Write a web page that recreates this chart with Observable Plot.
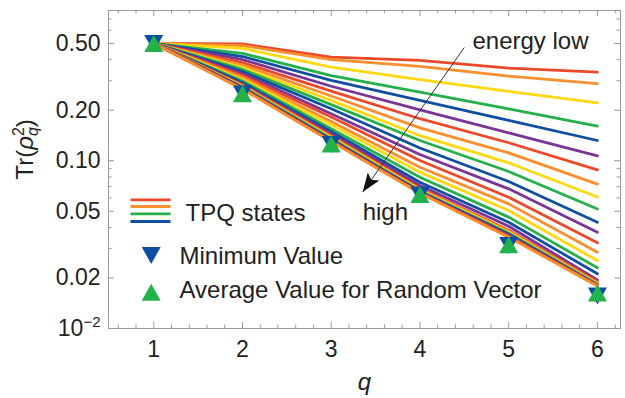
<!DOCTYPE html>
<html><head><meta charset="utf-8">
<script src="https://cdn.jsdelivr.net/npm/d3@7"></script>
<script src="https://cdn.jsdelivr.net/npm/@observablehq/plot@0.6"></script>
<style>body{margin:0;background:#fff}</style>
</head><body><div id="chart"></div>
<script>
// ---- data ----
const q = [1, 2, 3, 4, 5, 6];
const tpq = [
  [0.5, 0.497, 0.414, 0.396, 0.356, 0.337],
  [0.5, 0.486, 0.401, 0.365, 0.319, 0.288],
  [0.5, 0.467, 0.361, 0.304, 0.259, 0.221],
  [0.5, 0.436, 0.322, 0.256, 0.204, 0.161],
  [0.5, 0.418, 0.301, 0.229, 0.174, 0.132],
  [0.5, 0.401, 0.278, 0.201, 0.1466, 0.107],
  [0.5, 0.385, 0.260, 0.178, 0.128, 0.0883],
  [0.5, 0.372, 0.243, 0.157, 0.1114, 0.0726],
  [0.5, 0.359, 0.229, 0.141, 0.0972, 0.0608],
  [0.5, 0.350, 0.216, 0.132, 0.0863, 0.0516],
  [0.5, 0.340, 0.204, 0.119, 0.0752, 0.0430],
  [0.5, 0.331, 0.1906, 0.109, 0.0680, 0.0375],
  [0.5, 0.322, 0.182, 0.1003, 0.0606, 0.0324],
  [0.5, 0.314, 0.1713, 0.0914, 0.0553, 0.0285],
  [0.5, 0.305, 0.1637, 0.0855, 0.0505, 0.0254],
  [0.5, 0.299, 0.155, 0.0798, 0.0461, 0.0230],
  [0.5, 0.292, 0.1494, 0.0745, 0.0430, 0.0212],
  [0.5, 0.286, 0.1447, 0.0712, 0.0407, 0.0195],
  [0.5, 0.283, 0.141, 0.0685, 0.0385, 0.0190],
  [0.5, 0.280, 0.139, 0.0675, 0.0380, 0.0187],
  [0.5, 0.277, 0.137, 0.0670, 0.0375, 0.0185],
  [0.5, 0.275, 0.1355, 0.0660, 0.0370, 0.0183],
  [0.5, 0.273, 0.134, 0.0655, 0.0365, 0.0182],
  [0.5, 0.271, 0.1325, 0.0650, 0.0360, 0.0181],
  [0.5, 0.269, 0.131, 0.0645, 0.0355, 0.0180],
  [0.5, 0.267, 0.130, 0.0640, 0.0350, 0.0179]
];
const minValue = [0.5, 0.25, 0.125, 0.0625, 0.03125, 0.0156];
const avgRandom = [0.5, 0.251, 0.126, 0.0628, 0.0316, 0.0163];
const xMajor = [1, 2, 3, 4, 5, 6];
const xTickLabels = ["1", "2", "3", "4", "5", "6"];
const xMinor = [0.6, 0.8, 1.2, 1.4, 1.6, 1.8, 2.2, 2.4, 2.6, 2.8, 3.2, 3.4, 3.6, 3.8, 4.2, 4.4, 4.6, 4.8, 5.2, 5.4, 5.6, 5.8, 6.2];
const yMajor = [0.01, 0.02, 0.05, 0.1, 0.2, 0.5];
const yMinor = [0.03, 0.04, 0.06, 0.07, 0.08, 0.09, 0.3, 0.4, 0.6, 0.7];
const yTickLabels = ["10^-2", "0.02", "0.05", "0.10", "0.20", "0.50"];
const legendLabels = ["TPQ states", "Minimum Value", "Average Value for Random Vector"];
const arrowAnno = [{x1: 4.5, y1: 0.473, x2: 3.354, y2: 0.065}];
const textAnno = [{x: 4.592, y: 0.514, text: "energy low"}, {x: 3.354, y: 0.0494, text: "high"}];

// ---- styles ----
const palette = ["#EB4A2A", "#F88F2F", "#FFD812", "#26B04B", "#104FA0", "#7B3597"];
const blueM = "#0D4EA3", greenM = "#22B24C", gray = "#999", ink = "#222";
const W = 625, H = 398, mL = 108, mR = 5, mT = 10, mB = 70;
const iw = W - mL - mR, ih = H - mT - mB;
const bigFont = 24;

const rows = tpq.flatMap((vals, i) => vals.map((v, j) => ({q: q[j], v, line: i, c: palette[i % 6]})));
const minRows = q.map((d, i) => ({q: d, v: minValue[i]}));
const avgRows = q.map((d, i) => ({q: d, v: avgRandom[i]}));

const triUp = {draw(c) { c.moveTo(0, -8.5); c.lineTo(9.5, 8.5); c.lineTo(-9.5, 8.5); c.closePath(); }};
const triDown = {draw(c) { c.moveTo(0, 8.5); c.lineTo(9.5, -8.5); c.lineTo(-9.5, -8.5); c.closePath(); }};
const hline = {draw(c) { c.moveTo(-20, 0); c.lineTo(20, 0); }};
const head = {draw(c) { c.moveTo(0, 0); c.lineTo(7, 19); c.lineTo(0, 15); c.lineTo(-7, 19); c.closePath(); }};

const swatchColors = [palette[0], palette[1], palette[3], palette[4]];
const swatchDy = [-128.7, -122, -114.7, -107];

const legendText = (label, dx, dy) => Plot.text([label], {frameAnchor: "bottom-left", dx, dy, text: d => d,
  textAnchor: "start", lineAnchor: "middle", fill: ink, fontSize: bigFont});

const chart = Plot.plot({
  width: W, height: H,
  marginLeft: mL, marginRight: mR, marginTop: mT, marginBottom: mB,
  style: {fontSize: "23px", fontFamily: "'Liberation Sans', Arial, sans-serif", color: ink, background: "#fff"},
  x: {domain: [0.49, 6.26]},
  y: {type: "log", domain: [0.01, 0.786]},
  color: {type: "identity"},
  marks: [
    Plot.line(rows, {x: "q", y: "v", z: "line", stroke: "c", strokeWidth: 2.8}),
    Plot.dot(minRows, {x: "q", y: "v", symbol: triDown, fill: blueM, stroke: null}),
    Plot.dot(avgRows, {x: "q", y: "v", symbol: triUp, fill: greenM, stroke: null}),
    Plot.link(arrowAnno, {x1: "x1", y1: "y1", x2: "x2", y2: "y2", stroke: "#333", strokeWidth: 1}),
    Plot.dot(arrowAnno, {x: "x2", y: "y2", symbol: head, fill: "#111", stroke: null, rotate: 215}),
    Plot.text(textAnno, {x: "x", y: "y", text: "text", textAnchor: "start", lineAnchor: "middle", fill: ink, fontSize: bigFont}),
    ...swatchColors.map((col, i) => Plot.dot([0], {frameAnchor: "bottom-left", dx: 42, dy: swatchDy[i], symbol: hline, stroke: col, fill: "none", strokeWidth: 2.8})),
    legendText(legendLabels[0], 77, -115.4),
    Plot.dot([0], {frameAnchor: "bottom-left", dx: 42.7, dy: -73, symbol: triDown, fill: blueM, stroke: null}),
    legendText(legendLabels[1], 71, -72),
    Plot.dot([0], {frameAnchor: "bottom-left", dx: 42.7, dy: -36.3, symbol: triUp, fill: greenM, stroke: null}),
    legendText(legendLabels[2], 71, -38),
    Plot.frame({stroke: gray}),
    Plot.tickX(xMajor, {x: d => d, stroke: gray, insetTop: ih - 6}),
    Plot.tickX(xMajor, {x: d => d, stroke: gray, insetBottom: ih - 6}),
    Plot.tickX(xMinor, {x: d => d, stroke: gray, insetTop: ih - 3.5}),
    Plot.tickX(xMinor, {x: d => d, stroke: gray, insetBottom: ih - 3.5}),
    Plot.tickY(yMajor, {y: d => d, stroke: gray, insetRight: iw - 6}),
    Plot.tickY(yMajor, {y: d => d, stroke: gray, insetLeft: iw - 6}),
    Plot.tickY(yMinor, {y: d => d, stroke: gray, insetRight: iw - 3.5}),
    Plot.tickY(yMinor, {y: d => d, stroke: gray, insetLeft: iw - 3.5}),
    Plot.axisX({ticks: xMajor, tickSize: 0, tickPadding: 12, label: null, fill: ink,
      tickFormat: d => xTickLabels[xMajor.indexOf(d)]}),
    Plot.axisY({ticks: yMajor, tickSize: 0, tickPadding: 8, label: null, fill: ink,
      tickFormat: d => yTickLabels[yMajor.findIndex(t => Math.abs(t - d) < 1e-9)]}),
    Plot.text(["q"], {frameAnchor: "bottom", dy: 54, lineAnchor: "middle", text: d => d, fontStyle: "italic", fill: ink, fontSize: bigFont}),
    Plot.text(["Tr(ρq2)"], {frameAnchor: "left", dx: -83, dy: 10, rotate: -90, lineAnchor: "middle", text: d => d, fill: ink, fontSize: bigFont})
  ]
});
document.getElementById("chart").appendChild(chart);

// rich text post-processing
const svg = d3.select(chart);
svg.selectAll("text").each(function() {
  const t = d3.select(this);
  const s = this.textContent;
  if (s === "10^-2") {
    t.text("10");
    t.append("tspan").attr("font-size", "15px").attr("dy", "-0.6em").text("\u22122");
  } else if (s === "Tr(ρq2)") {
    t.text("");
    t.append("tspan").text("Tr(");
    t.append("tspan").attr("font-style", "italic").text("ρ");
    t.append("tspan").attr("font-style", "italic").attr("font-size", "16px").attr("dy", "5px").text("q");
    t.append("tspan").attr("font-size", "16px").attr("dx", "-9px").attr("dy", "-14px").text("2");
    t.append("tspan").attr("dy", "9px").text(")");
  }
});
</script>
</body></html>
